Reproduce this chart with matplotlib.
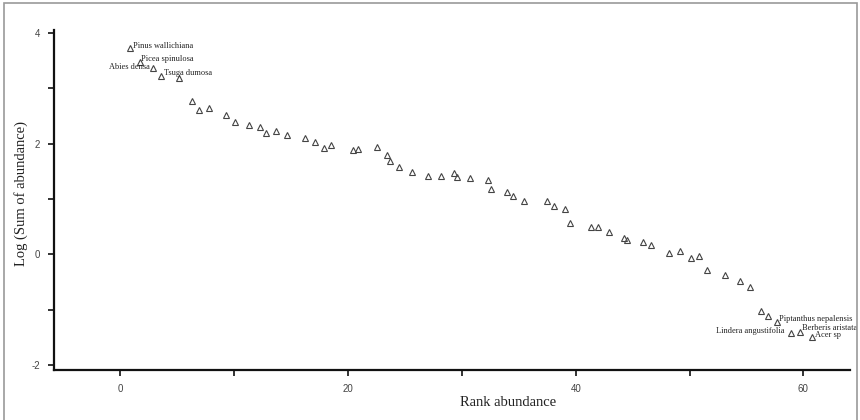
import matplotlib
matplotlib.use("Agg")
import matplotlib.pyplot as plt
from matplotlib.patches import Rectangle
from matplotlib.ticker import MultipleLocator

plt.rcParams["axes.unicode_minus"] = False

# values
rank = [0.8, 1.7, 2.9, 3.6, 5.1, 6.3, 6.9, 7.8, 9.3, 10.1,
        11.3, 12.3, 12.8, 13.7, 14.6, 16.2, 17.1, 17.9, 18.5, 20.4,
        20.9, 22.5, 23.4, 23.7, 24.5, 25.6, 27.0, 28.2, 29.3, 29.6,
        30.7, 32.3, 32.6, 34.0, 34.5, 35.5, 37.5, 38.1, 39.1, 39.5,
        41.3, 42.0, 42.9, 44.2, 44.5, 45.9, 46.6, 48.2, 49.2, 50.1,
        50.8, 51.5, 53.1, 54.4, 55.3, 56.3, 56.9, 57.7, 58.9, 59.7, 60.8]
log_abund = [3.73, 3.48, 3.37, 3.22, 3.18, 2.76, 2.61, 2.65, 2.52, 2.39,
             2.33, 2.29, 2.19, 2.23, 2.15, 2.10, 2.02, 1.92, 1.97, 1.88,
             1.91, 1.93, 1.80, 1.69, 1.58, 1.48, 1.42, 1.42, 1.46, 1.39,
             1.37, 1.35, 1.17, 1.12, 1.06, 0.97, 0.97, 0.87, 0.81, 0.57,
             0.50, 0.50, 0.41, 0.29, 0.26, 0.23, 0.17, 0.02, 0.05, -0.06,
             -0.04, -0.28, -0.37, -0.48, -0.59, -1.03, -1.11, -1.23, -1.43, -1.40, -1.50]

# species labels: (index of point, name, offset in points, alignment)
labels = [
    (0, "Pinus wallichiana", (2.5, 1.5), "left"),
    (1, "Picea spinulosa", (1.2, 1.8), "left"),
    (2, "Abies densa", (-2.5, 0.7), "right"),
    (3, "Tsuga dumosa", (1.6, 1.8), "left"),
    (57, "Piptanthus nepalensis", (1.2, 2.5), "left"),
    (58, "Lindera angustifolia", (-4.5, 1.5), "right"),
    (59, "Berberis aristata", (1.2, 2.8), "left"),
    (60, "Acer sp", (2.0, 1.4), "left"),
]

fig = plt.figure(figsize=(8.6, 4.2), dpi=100)
fig.patches.append(Rectangle((4 / 860, -0.01), 853 / 860, 1.01 - 3 / 420,
                             transform=fig.transFigure, fill=False,
                             edgecolor="#9a9a9a", lw=1.2))
ax = fig.add_axes([54 / 860, 50 / 420, 796 / 860, 340 / 420])

ax.plot(rank, log_abund, linestyle="none", marker="^", markersize=4.5,
        markerfacecolor="none", markeredgecolor="#444444", markeredgewidth=0.8)

for i, name, off, ha in labels:
    ax.annotate(name, (rank[i], log_abund[i]), xytext=off,
                textcoords="offset points", ha=ha, va="center",
                fontsize=6, family="Liberation Serif", color="#222222")

ax.set_xlim(-5.84, 64.1)
ax.set_ylim(-2.09, 4.05)
ax.xaxis.set_major_locator(MultipleLocator(20))
ax.xaxis.set_minor_locator(MultipleLocator(10))
ax.yaxis.set_major_locator(MultipleLocator(2))
ax.yaxis.set_minor_locator(MultipleLocator(1))

for s in ["top", "right"]:
    ax.spines[s].set_visible(False)
for s in ["left", "bottom"]:
    ax.spines[s].set_linewidth(1.6)
    ax.spines[s].set_color("#111111")

ax.tick_params(which="both", direction="out", length=4, width=1.2,
               color="#111111", labelsize=7, labelcolor="#444444", pad=6)
for t in ax.get_xticklabels() + ax.get_yticklabels():
    t.set_family("Liberation Sans")

ax.set_xlabel("Rank abundance", family="Liberation Serif", fontsize=10.5,
              color="#222222", labelpad=12)
ax.xaxis.set_label_coords(0.57, -0.075)
ax.set_ylabel("Log (Sum of abundance)", family="Liberation Serif", fontsize=10.5,
              color="#222222")
ax.yaxis.set_label_coords(-0.033, 0.52)

plt.savefig("out.png", dpi=100)
plt.close()
